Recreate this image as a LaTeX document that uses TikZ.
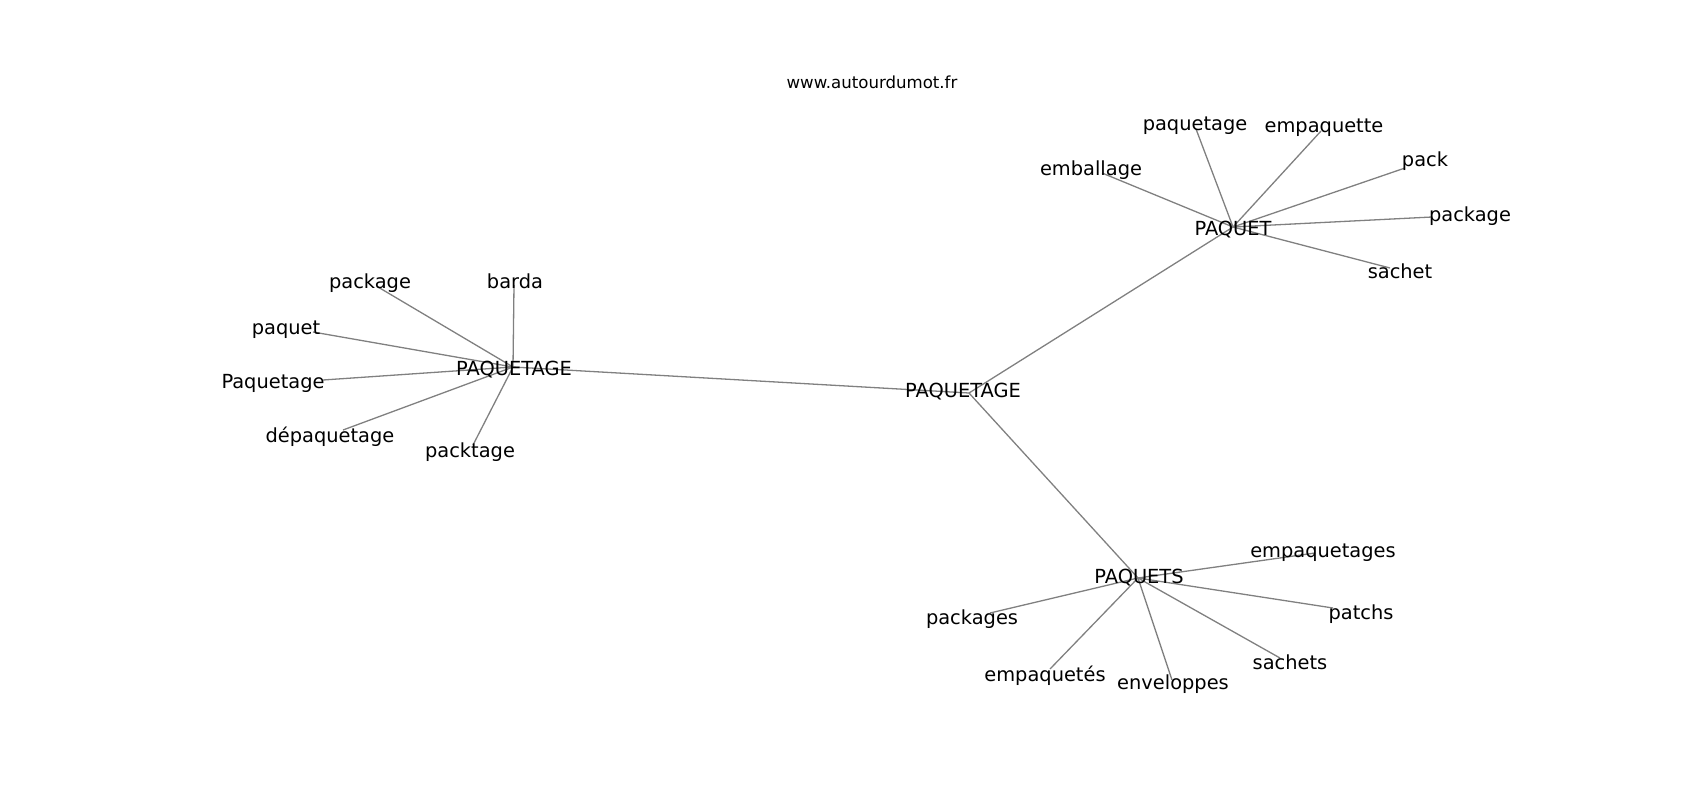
\documentclass[tikz,border=0pt]{standalone}
\usepackage{fontspec}
\setmainfont{DejaVu Sans}
\begin{document}
\begin{tikzpicture}[x=1pt,y=-1pt,
  edge/.style={draw={rgb,255:red,128;green,128;blue,128}, line width=1.3pt},
  lbl/.style={inner sep=0pt, text=black, yshift=-1.5pt, font=\fontsize{19.4}{21}\selectfont},
  ttl/.style={inner sep=0pt, text=black, font=\fontsize{16.6}{18}\selectfont}]
\useasboundingbox (0,0) rectangle (1700,800);
% hubs
\coordinate (hL) at (513,367);
\coordinate (hC) at (969,393);
\coordinate (hT) at (1233,227);
\coordinate (hB) at (1138,578);
% left leaves
\coordinate (cLpackage) at (378,287);
\coordinate (cLbarda) at (514,285);
\coordinate (cLpaquet) at (313,332);
\coordinate (cLPaquetage) at (323,380);
\coordinate (cLdepaq) at (343,430);
\coordinate (cLpacktage) at (473,445);
% top leaves
\coordinate (cTemballage) at (1102,173);
\coordinate (cTpaquetage) at (1196,129);
\coordinate (cTempaquette) at (1321,131);
\coordinate (cTpack) at (1405,168);
\coordinate (cTpackage) at (1432,217);
\coordinate (cTsachet) at (1390,268);
% bottom leaves
\coordinate (cBempaquetages) at (1315,553);
\coordinate (cBpatchs) at (1333,608);
\coordinate (cBsachets) at (1280,658);
\coordinate (cBenveloppes) at (1172,680);
\coordinate (cBempaquetes) at (1050,669);
\coordinate (cBpackages) at (990,613);
% edges
\draw[edge] (hL) -- (hC);
\draw[edge] (hC) -- (hT);
\draw[edge] (hC) -- (hB);
\foreach \c in {cLpackage,cLbarda,cLpaquet,cLPaquetage,cLdepaq,cLpacktage}
  {\draw[edge] (hL) -- (\c);}
\foreach \c in {cTemballage,cTpaquetage,cTempaquette,cTpack,cTpackage,cTsachet}
  {\draw[edge] (hT) -- (\c);}
\foreach \c in {cBempaquetages,cBpatchs,cBsachets,cBenveloppes,cBempaquetes,cBpackages}
  {\draw[edge] (hB) -- (\c);}
% labels
\node[ttl] (title) at (872,82) {www.autourdumot.fr};
\node[lbl] (nL) at (514,368) {PAQUETAGE};
\node[lbl] (nC) at (963,390) {PAQUETAGE};
\node[lbl] (nT) at (1233,228) {PAQUET};
\node[lbl] (nB) at (1139,576) {PAQUETS};
\node[lbl] (nLpackage) at (370,282) {package};
\node[lbl] (nLbarda) at (515,280) {barda};
\node[lbl] (nLpaquet) at (286,328) {paquet};
\node[lbl] (nLPaquetage) at (273,382) {Paquetage};
\node[lbl] (nLdepaq) at (330,435) {dépaquetage};
\node[lbl] (nLpacktage) at (470,451) {packtage};
\node[lbl] (nTemballage) at (1091,169) {emballage};
\node[lbl] (nTpaquetage) at (1195,124) {paquetage};
\node[lbl] (nTempaquette) at (1324,126) {empaquette};
\node[lbl] (nTpack) at (1425,160) {pack};
\node[lbl] (nTpackage) at (1470,215) {package};
\node[lbl] (nTsachet) at (1400,270) {sachet};
\node[lbl] (nBempaquetages) at (1323,551) {empaquetages};
\node[lbl] (nBpatchs) at (1361,613) {patchs};
\node[lbl] (nBsachets) at (1290,661) {sachets};
\node[lbl] (nBempaquetes) at (1045,674) {empaquetés};
\node[lbl] (nBenveloppes) at (1173,683) {enveloppes};
\node[lbl] (nBpackages) at (972,618) {packages};
\end{tikzpicture}
\end{document}
